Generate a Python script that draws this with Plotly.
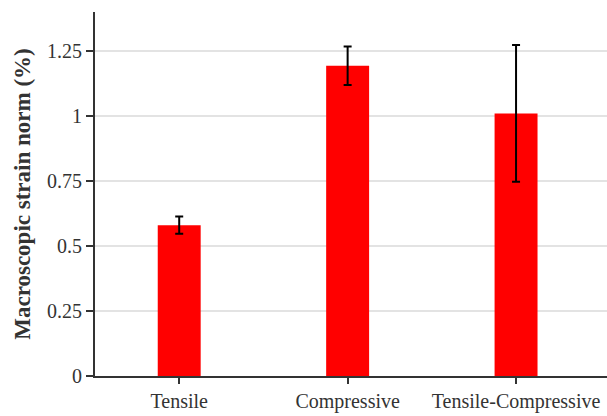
import plotly.graph_objects as go

# Mean macroscopic strain norm per loading case, with its spread
categories = ["Tensile", "Compressive", "Tensile-Compressive"]
strain_mean = [0.58, 1.193, 1.010]
strain_err = [0.033, 0.074, 0.263]

y_tick_vals = [0, 0.25, 0.5, 0.75, 1, 1.25]
y_tick_text = ["0", "0.25", "0.5", "0.75", "1", "1.25"]

font_family = "Liberation Serif, Times New Roman, serif"

fig = go.Figure(
    go.Bar(
        x=categories,
        y=strain_mean,
        marker=dict(color="#ff0000", line=dict(width=0)),
        error_y=dict(type="data", array=strain_err, visible=True,
                     color="black", thickness=2, width=4),
        width=0.255,
    )
)

fig.update_layout(
    width=607,
    height=416,
    margin=dict(l=95, r=0, t=12, b=40),
    paper_bgcolor="white",
    plot_bgcolor="white",
    showlegend=False,
    font=dict(family=font_family, size=20, color="#333333"),
    xaxis=dict(
        type="category",
        range=[-0.5, 2.54],
        showgrid=False,
        showline=True,
        linecolor="#333333",
        linewidth=2,
        ticks="outside",
        ticklen=6,
        tickwidth=2,
        tickcolor="#333333",
        tickfont=dict(size=20, color="#333333"),
        zeroline=False,
    ),
    yaxis=dict(
        range=[0, 1.4],
        tickvals=y_tick_vals,
        ticktext=y_tick_text,
        showgrid=True,
        gridcolor="#e3e3e3",
        gridwidth=2,
        showline=True,
        linecolor="#333333",
        linewidth=2,
        ticks="outside",
        ticklen=7,
        tickwidth=2,
        tickcolor="#333333",
        tickfont=dict(size=20, color="#333333"),
        zeroline=False,
        title=dict(
            text="<b>Macroscopic strain norm (%)</b>",
            font=dict(size=23, color="#333333"),
            standoff=10,
        ),
    ),
)

fig.write_html("out.html")
